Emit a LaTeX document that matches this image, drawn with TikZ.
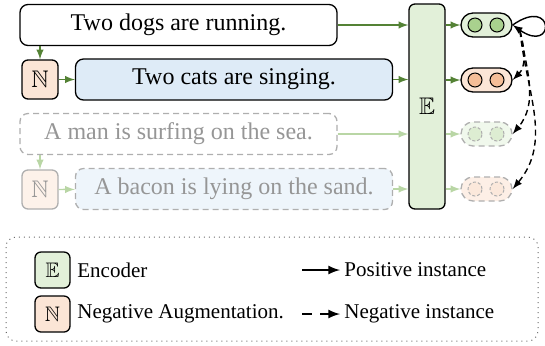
\documentclass[tikz,border=0pt]{standalone}
\usepackage{amsmath}
\usepackage{amssymb}
\usepackage{fontspec}
\setmainfont{Liberation Serif}
\newfontfamily\sentfont{Liberation Serif}
\usetikzlibrary{positioning,arrows}

\definecolor{encfill}{RGB}{226,240,217}
\definecolor{encdot}{RGB}{169,209,142}
\definecolor{negfill}{RGB}{251,229,214}
\definecolor{negdot}{RGB}{245,190,152}
\definecolor{blufill}{RGB}{222,235,247}
\definecolor{arrgreen}{RGB}{84,130,53}
\definecolor{palegreen}{RGB}{185,214,165}
\definecolor{fadetext}{RGB}{150,150,150}
\definecolor{fadeline}{RGB}{175,175,175}

\begin{document}
\begin{tikzpicture}[>=latex, x=0.5pt, y=-0.5pt,
    sent/.style={draw, rounded corners=4pt, minimum width=158.5pt, minimum height=20.5pt, line width=0.65pt, font=\sentfont\fontsize{12}{14}\selectfont},
    faded/.style={draw=fadeline, dash pattern=on 3pt off 2pt, text=fadetext},
    aug/.style={draw, rounded corners=3pt, minimum width=18pt, minimum height=19.5pt, inner sep=0pt, line width=0.65pt, font=\fontsize{12}{14}\selectfont},
    pill/.style={draw, rounded corners=6pt, minimum width=25.5pt, minimum height=12pt, line width=0.65pt},
    dot/.style={circle, draw, minimum size=7pt, inner sep=0pt, line width=0.5pt},
    fadedot/.style={draw=fadeline, dash pattern=on 1.5pt off 1pt},
    flow/.style={->, draw=arrgreen, line width=0.7pt},
    paleflow/.style={->, draw=palegreen, line width=0.7pt},
    negarrow/.style={->, dash pattern=on 3pt off 2pt, line width=0.7pt},
    legtxt/.style={anchor=west, inner sep=0pt, font=\sentfont\fontsize{10.5}{12}\selectfont}]
    \useasboundingbox (0,0) rectangle (545,345);

    \path
    % input sentences
    +(178.5,25)  node[sent, fill=white] (s1) {Two dogs are running.}
    +(40,79.5)   node[aug, fill=negfill] (n1) {$\mathbb{N}$}
    +(234,79.5)  node[sent, fill=blufill] (s2) {Two cats are singing.}
    +(178.5,134) node[sent, faded, fill=white] (s3) {A man is surfing on the sea.}
    +(40,189.5)  node[aug, draw=fadeline, text=fadetext, fill=negfill!50] (n2) {$\mathbb{N}$}
    +(234,189)   node[sent, faded, fill=blufill!50] (s4) {A bacon is lying on the sand.}
    % encoder
    +(427,106.5) node[draw, rounded corners=3pt, fill=encfill, minimum width=18pt, minimum height=102.5pt, line width=0.65pt, font=\fontsize{12}{14}\selectfont] (enc) {$\mathbb{E}$}
    % representations
    +(486.5,25)  node[pill, fill=encfill] (o1) {}
    +(486.5,80)  node[pill, fill=negfill] (o2) {}
    +(486.5,134) node[pill, faded, fill=encfill!50] (o3) {}
    +(486.5,189) node[pill, faded, fill=negfill!60] (o4) {};

    \path
    +(475,25)  node[dot, fill=encdot] (o1a) {}
    +(497,25)  node[dot, fill=encdot] (o1b) {}
    +(475,80)  node[dot, fill=negdot] (o2a) {}
    +(497,80)  node[dot, fill=negdot] (o2b) {}
    +(475,134) node[dot, fadedot, fill=encdot!40] (o3a) {}
    +(497,134) node[dot, fadedot, fill=encdot!40] (o3b) {}
    +(475,189) node[dot, fadedot, fill=negdot!35] (o4a) {}
    +(497,189) node[dot, fadedot, fill=negdot!35] (o4b) {};

    \draw[flow] (n1.north |- s1.south)--(n1.north);
    \draw[flow] (n1)--(s2);
    \draw[paleflow] (n2.north |- s3.south)--(n2.north);
    \draw[paleflow] (n2)--(s4);

    \draw[flow] (s1.east)--(s1.east -| enc.west);
    \draw[flow] (s2.east)--(s2.east -| enc.west);
    \draw[paleflow] (s3.east)--(s3.east -| enc.west);
    \draw[paleflow] (s4.east)--(s4.east -| enc.west);

    \draw[flow] (o1.west -| enc.east)--(o1);
    \draw[flow] (o2.west -| enc.east)--(o2);
    \draw[paleflow] (o3.west -| enc.east)--(o3);
    \draw[paleflow] (o4.west -| enc.east)--(o4);

    % positive / negative pairs
    \draw[->, line width=0.7pt] (o1.east) to[out=35, in=-35, distance=26pt] (o1.east);
    \coordinate (anc) at (520,31);
    \draw[negarrow] (anc) to[out=-75, in=45] (o2.east);
    \draw[negarrow] (anc) to[out=-80, in=50] (o3.east);
    \draw[negarrow] (anc) to[out=-84, in=50] (o4.east);

    % legend
    \draw[fadetext!70!black, dotted, rounded corners=5pt, line width=0.5pt] (6,237) rectangle (538,341);
    \node[aug, fill=encfill, minimum width=17.5pt, minimum height=18pt, font=\fontsize{10.5}{12}\selectfont] (lgE) at (52.5,270) {$\mathbb{E}$};
    \node[aug, fill=negfill, minimum width=17.5pt, minimum height=18pt, font=\fontsize{10.5}{12}\selectfont] (lgN) at (52.5,314) {$\mathbb{N}$};
    \node[legtxt] (encTxt) at (77,270) {Encoder};
    \node[legtxt] (augTxt) at (77,314) {Negative Augmentation.};
    \node[legtxt] (posTxt) at (344,270) {Positive instance};
    \node[legtxt] (negTxt) at (344,314) {Negative instance};
    \coordinate (posA) at (302,270);
    \coordinate (negA) at (302,314);
    \draw[->, line width=1pt] (posA)--([xshift=-2pt]posTxt.west);
    \draw[->, line width=1pt, dash pattern=on 5pt off 4pt] (negA)--([xshift=-2pt]negTxt.west);
\end{tikzpicture}
\end{document}
